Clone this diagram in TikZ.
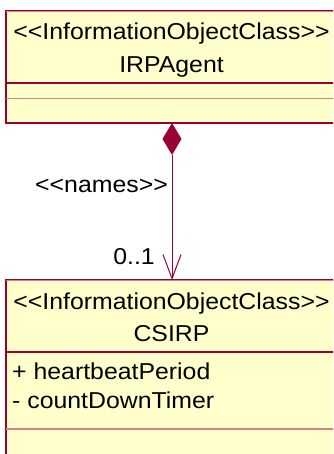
\documentclass[tikz,border=0pt]{standalone}
\usepackage{fontspec}
\setmainfont{Liberation Sans}[FakeStretch=1.08, Ligatures=TeXOff]
\usetikzlibrary{arrows.meta,shapes.geometric}
\definecolor{umlline}{RGB}{153,0,51}
\definecolor{umlpink}{RGB}{214,128,140}
\definecolor{umlfill}{RGB}{255,255,204}
\begin{document}
\begin{tikzpicture}[x=1pt,y=-1pt,
  classbox/.style={draw=umlline, line width=1.6pt, fill=umlfill, anchor=north west,
    minimum width=331pt, inner sep=0pt, outer sep=0pt},
  txt/.style={font=\fontsize{23}{27}\selectfont, anchor=base, inner sep=0pt, text=black},
  attr/.style={txt, anchor=base west},
  lbl/.style={txt, anchor=base east},
  sepdark/.style={draw=umlline, line width=1.2pt},
  seplight/.style={draw=umlpink, line width=1.4pt},
  comp/.style={diamond, fill=umlline, draw=none, minimum width=19pt, minimum height=32pt,
    inner sep=0pt, outer sep=0pt, anchor=north},
  assoc/.style={draw=umlline, line width=1pt, -{Straight Barb[length=24pt,width=18pt]}}]
\useasboundingbox (0,0) rectangle (333,454);
\clip (0,0) rectangle (333,454);
% IRPAgent class
\node[classbox, minimum height=112pt] (irp) at (6,11) {};
\draw[seplight] (6,11.3) -- (337,11.3);
\draw[sepdark] (6,83) -- (337,83);
\draw[seplight] (6,98.5) -- (337,98.5);
\node[txt] (irpst) at (171.5,40) {<<InformationObjectClass>>};
\node[txt] (irpname) at (171.5,73) {IRPAgent};
% CSIRP class
\node[classbox, minimum height=200pt] (csirp) at (6,280) {};
\draw[seplight] (6,280.3) -- (337,280.3);
\draw[sepdark] (6,352) -- (337,352);
\draw[seplight] (6,429) -- (337,429);
\node[txt] (csst) at (171.5,309) {<<InformationObjectClass>>};
\node[txt] (csname) at (171.5,341) {CSIRP};
\node[attr] (a1) at (12,379) {+ heartbeatPeriod};
\node[attr] (a2) at (12,408) {- countDownTimer};
% composition
\node[comp] (dia) at (172,123) {};
\draw[assoc] (dia.south) -- (dia.south |- csirp.north);
\node[lbl] (names) at (168,193) {<<names>>};
\node[lbl] (mult) at (155,264) {0..1};
\end{tikzpicture}
\end{document}
